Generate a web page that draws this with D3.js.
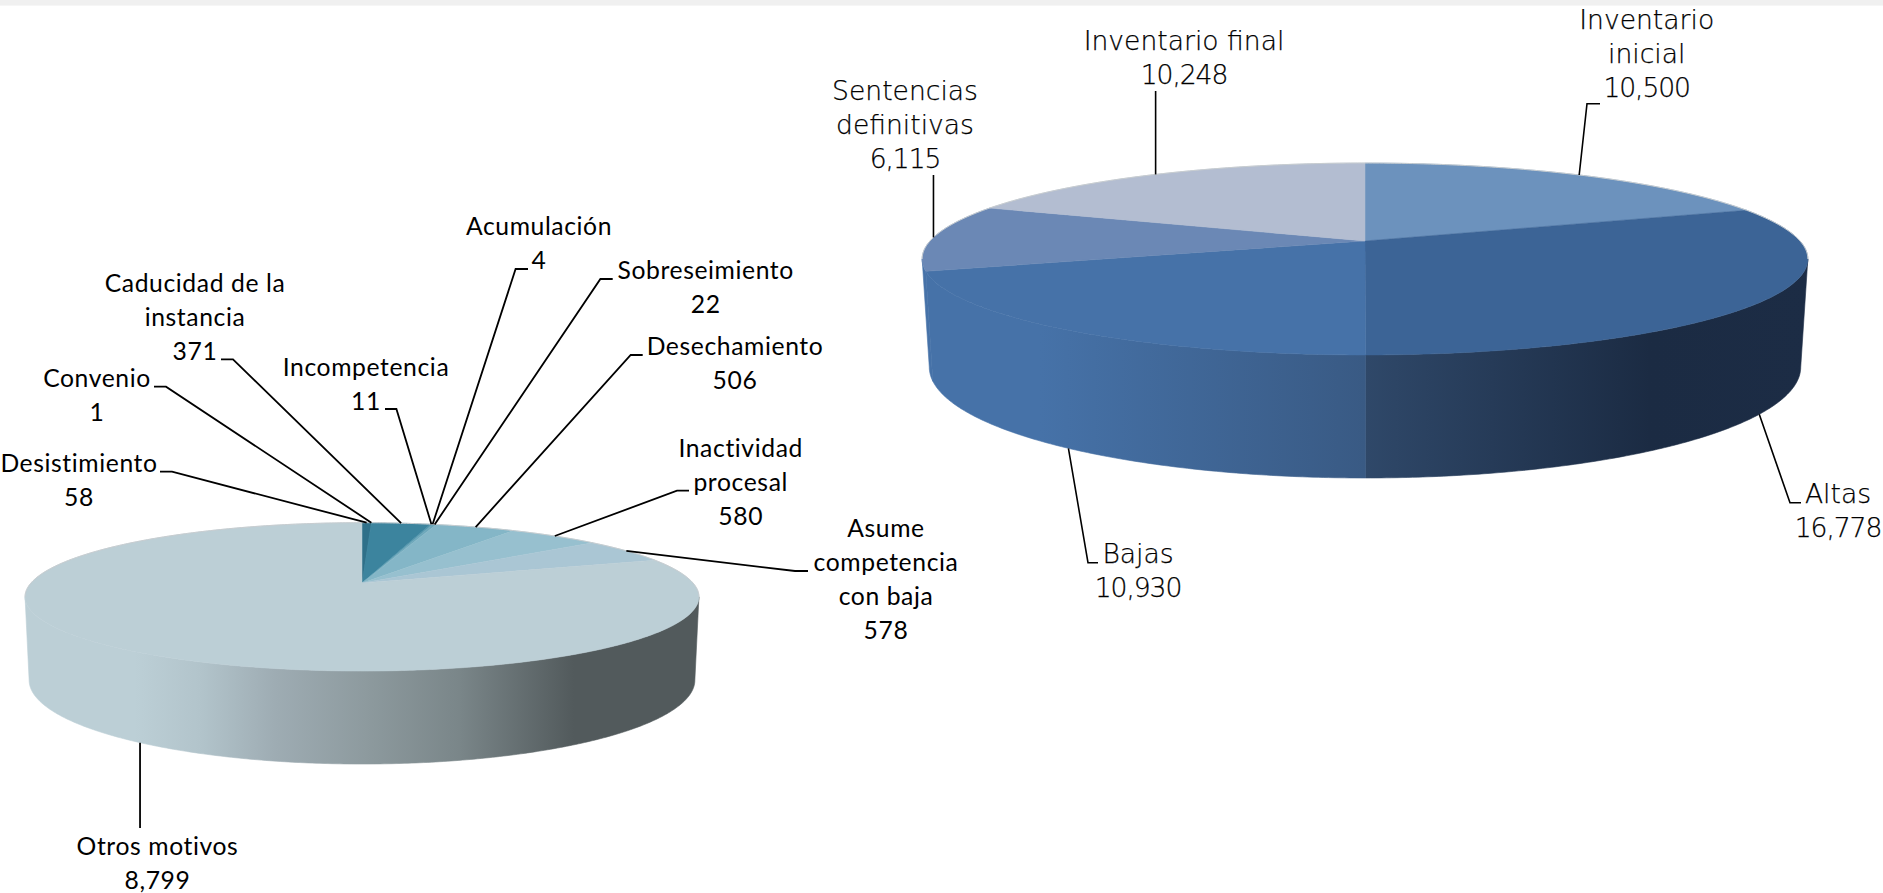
<!DOCTYPE html>
<html>
<head>
<meta charset="utf-8">
<script src="https://d3js.org/d3.v7.min.js"></script>
<style>
  html, body { margin: 0; padding: 0; background: #fff; overflow: hidden; }
</style>
</head>
<body>
<div id="chart"></div>
<script>
// left pie: motivos de baja, clockwise from 12 o'clock
var bajasCategories = ["Desistimiento", "Convenio", "Caducidad de la instancia", "Incompetencia", "Acumulación", "Sobreseimiento", "Desechamiento", "Inactividad procesal", "Asume competencia con baja", "Otros motivos"];
var bajasValues = [58, 1, 371, 11, 4, 22, 506, 580, 578, 8799];

// right pie: movimiento de expedientes, clockwise from 12 o'clock
var invCategories = ["Inventario inicial", "Altas", "Bajas", "Sentencias definitivas", "Inventario final"];
var invValues = [10500, 16778, 10930, 6115, 10248];

// how the names wrap on the page
var bajasLines = [["Desistimiento"], ["Convenio"], ["Caducidad de la", "instancia"], ["Incompetencia"], ["Acumulación"], ["Sobreseimiento"], ["Desechamiento"], ["Inactividad", "procesal"], ["Asume", "competencia", "con baja"], ["Otros motivos"]];
var invLines = [["Inventario", "inicial"], ["Altas"], ["Bajas"], ["Sentencias", "definitivas"], ["Inventario final"]];

var bajasColors = ["#2f7089", "#2f7089", "#3c849e", "#4a90a8", "#5a9ab0", "#6ea8bb", "#84b6c7", "#97c0cf", "#aac6d4", "#bccfd6"];
var invColors = ["#6c92bd", "#3c6496", "#4672a8", "#6b88b5", "#b3bdd1"];

var width = 1883, height = 893;

var svg = d3.select("#chart").append("svg")
    .attr("width", width)
    .attr("height", height)
    .style("display", "block");

var defs = svg.append("defs");

// grey strip along the top of the page
svg.append("rect")
    .attr("width", width)
    .attr("height", 5.6)
    .attr("fill", "#f0f0f0");

// k is the perspective, top and bottom are the two discs of the cylinder
var bajasPie = {
  id: "bajas", cx: 362, k: 0.187,
  top: {y0: 583, R: 331, A: 71.6},
  bottom: {y0: 664.4, R: 327, A: 81},
  names: bajasLines, values: bajasValues, colors: bajasColors,
  walls: {9: [[29, "#bccfd6"], [135, "#bccfd6"], [200, "#b2c4cb"], [275, "#9eacb3"], [367, "#8d9a9e"], [459, "#7a8689"], [574, "#525a5c"], [700, "#525a5c"]]},
  font: "Lato", weight: 400, size: 24.7, spacing: 0.6, valueSpacing: 0.6, outline: 0, lineWidth: 1.8,
  // label centre and first baseline; knee and end of the leader
  labels: [
    {x: 79, y: 471.7, knee: [172, 471.7], end: [160, 471.7]},
    {x: 97, y: 387, knee: [166, 386.7], end: [154, 386.7]},
    {x: 195, y: 291.7, knee: [233, 359.3], end: [221, 359.3]},
    {x: 366, y: 376, knee: [396.4, 409], end: [385, 409]},
    {x: 539, y: 235, knee: [515.6, 269], end: [528, 269]},
    {x: 705.7, y: 279, knee: [600.4, 279], end: [612.7, 279]},
    {x: 735, y: 355, knee: [630.7, 355], end: [642.7, 355]},
    {x: 740.7, y: 456.7, knee: [677, 490.7], end: [689, 490.7]},
    {x: 886, y: 536.7, knee: [795, 571], end: [808, 571]},
    {x: 157.5, y: 855, knee: [null, 828], end: null}
  ]
};

var invPie = {
  id: "inv", cx: 1365, k: 0.1875,
  top: {y0: 241, R: 435, A: 92.6},
  bottom: {y0: 346.3, R: 428, A: 107},
  names: invLines, values: invValues, colors: invColors,
  walls: {
    1: [[1365, "#2f4869"], [1650, "#1b2b43"], [1810, "#1c2c45"]],
    2: [[925, "#4672a8"], [1040, "#4672a8"], [1365, "#395a84"]],
    3: [[925, "#4672a8"], [1365, "#4672a8"]]
  },
  font: "DejaVu Sans", weight: 200, size: 26.6, spacing: 0, valueSpacing: -1.1, outline: 0.25, lineWidth: 1.6,
  labels: [
    {x: 1646.7, y: 29, knee: [1587, 103.7], end: [1600, 103.7]},
    {x: 1838, y: 502.7, knee: [1790, 502.7], end: [1801, 502.7]},
    {x: 1138, y: 562.7, knee: [1088, 562.7], end: [1098, 562.7]},
    {x: 905, y: 100, knee: [null, 175], end: null},
    {x: 1184, y: 50, knee: [null, 91], end: null}
  ]
};

var lineStep = 34.2;

// perspective projection of an angle on the rim of a disc
function rim(p, disc, a) {
  var u = Math.sin(a), v = Math.cos(a), d = 1 + p.k * v;
  return [p.cx + disc.R * u / d, disc.y0 - disc.A * v / d];
}

function arcPoints(p, disc, a0, a1) {
  var n = Math.max(2, Math.ceil(Math.abs(a1 - a0) / 0.01));
  return d3.range(n + 1).map(function(i) {
    return rim(p, disc, a0 + (a1 - a0) * i / n);
  });
}

var line = d3.line();

function drawPie(p) {
  var slices = d3.pie().sort(null).value(function(d) { return d; })(p.values);
  var g = svg.append("g");

  // only the front of the side wall shows, between the two silhouette angles
  var wallFrom = Math.acos(-p.k), wallTo = 2 * Math.PI - wallFrom;

  slices.forEach(function(s, i) {
    var stops = p.walls[i];
    if (!stops) return;
    var a0 = Math.max(s.startAngle, wallFrom), a1 = Math.min(s.endAngle, wallTo);
    if (a1 <= a0) return;
    var id = p.id + "-wall-" + i;
    var x0 = stops[0][0], x1 = stops[stops.length - 1][0];
    var grad = defs.append("linearGradient").attr("id", id)
        .attr("gradientUnits", "userSpaceOnUse")
        .attr("x1", x0).attr("x2", x1).attr("y1", 0).attr("y2", 0);
    stops.forEach(function(st) {
      grad.append("stop")
          .attr("offset", (st[0] - x0) / (x1 - x0))
          .attr("stop-color", st[1]);
    });
    var pts = arcPoints(p, p.top, a0, a1).concat(arcPoints(p, p.bottom, a1, a0));
    g.append("path")
        .attr("d", line(pts) + "Z")
        .attr("fill", "url(#" + id + ")")
        .attr("stroke", "url(#" + id + ")")
        .attr("stroke-width", 0.6);
  });

  // top face
  slices.forEach(function(s, i) {
    var pts = [[p.cx, p.top.y0]].concat(arcPoints(p, p.top, s.startAngle, s.endAngle));
    g.append("path")
        .attr("d", line(pts) + "Z")
        .attr("fill", p.colors[i])
        .attr("stroke", p.colors[i])
        .attr("stroke-width", 0.5);
  });

  // thin pale edge along the back of the disc
  g.append("path")
      .attr("d", line(arcPoints(p, p.top, wallTo - 2 * Math.PI, wallFrom)))
      .attr("fill", "none")
      .attr("stroke", "#c8cdd0")
      .attr("stroke-width", 1);

  // leaders start on the rim at the middle of each slice
  slices.forEach(function(s, i) {
    var mid = (s.startAngle + s.endAngle) / 2;
    var front = mid > wallFrom + 0.1 && mid < wallTo - 0.1;
    var start = rim(p, front ? p.bottom : p.top, mid);
    var lab = p.labels[i];
    var pts = [start];
    pts.push([lab.knee[0] === null ? start[0] : lab.knee[0], lab.knee[1]]);
    if (lab.end) pts.push(lab.end);
    g.append("path")
        .attr("d", line(pts))
        .attr("fill", "none")
        .attr("stroke", "#000")
        .attr("stroke-width", p.lineWidth);
  });

  // labels: name lines and then the value
  slices.forEach(function(s, i) {
    var lab = p.labels[i];
    var rows = p.names[i].concat(d3.format(",")(p.values[i]));
    var t = g.append("text")
        .attr("text-anchor", "middle")
        .attr("font-family", p.font)
        .attr("font-weight", p.weight)
        .attr("font-size", p.size)
        .attr("fill", "#000")
        .attr("stroke", p.outline ? "#000" : "none")
        .attr("stroke-width", p.outline);
    rows.forEach(function(r, j) {
      t.append("tspan")
          .attr("x", lab.x)
          .attr("y", lab.y + j * lineStep)
          .attr("letter-spacing", j === rows.length - 1 ? p.valueSpacing : p.spacing)
          .text(r);
    });
  });
}

drawPie(invPie);
drawPie(bajasPie);
</script>
</body>
</html>
